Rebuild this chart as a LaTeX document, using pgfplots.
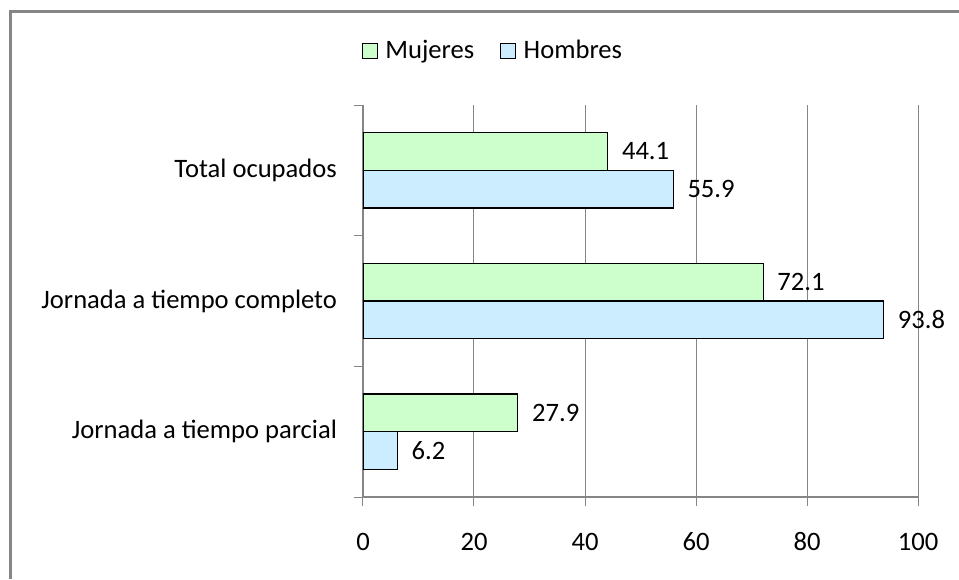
\documentclass[border=0pt]{standalone}
\usepackage{pgfplots}
\pgfplotsset{compat=1.18}
\usepackage{fontspec}
\setmainfont{Carlito}[Numbers=Lining]
\definecolor{mgreen}{HTML}{CCFFCC}
\definecolor{hblue}{HTML}{CCECFF}
\definecolor{gridgray}{HTML}{868686}
\newcommand{\lblfont}{\fontsize{13.3}{15}\selectfont}
\begin{document}
\begin{tikzpicture}
\useasboundingbox (0,0) rectangle (479.5pt,-289.5pt);
\draw[gridgray, line width=1.5pt] (5.25pt,-289.5pt) -- (5.25pt,-5.75pt) -- (479.5pt,-5.75pt);
\begin{axis}[
  at={(181.5pt,-248.5pt)}, anchor=south west,
  scale only axis, width=277.5pt, height=196pt,
  xmin=0, xmax=100, ymin=0, ymax=3,
  xbar, bar width=0.288,
  axis lines*=left,
  axis line style={gridgray, line width=0.8pt},
  xtick={0,20,40,60,80,100},
  xmajorgrids, grid style={gridgray, line width=0.5pt},
  tick style={gridgray, line width=0.5pt},
  tick align=outside, major tick length=4.5pt,
  ytick={0,1,2,3}, yticklabels={},
  extra y ticks={0.5,1.5,2.5},
  extra y tick labels={Jornada a tiempo parcial, Jornada a tiempo completo, Total ocupados},
  extra y tick style={major tick length=0pt, grid=none},
  yticklabel style={font=\lblfont, black, xshift=-9.5pt},
  xticklabel style={font=\lblfont, black, anchor=north, text height=9pt, text depth=0pt, yshift=-9.5pt},
  /pgf/number format/assume math mode=true,
  nodes near coords,
  nodes near coords style={font=\lblfont, black, anchor=west, xshift=3.5pt,
    /pgf/number format/.cd, fixed, precision=1, fixed zerofill, assume math mode=true},
  legend style={at={(0.236,1.138)}, anchor=center, draw=none, fill=none,
    font=\lblfont, legend columns=2,
    /tikz/every even column/.append style={column sep=11pt}},
  legend image code/.code={\draw[#1, draw=black, line width=0.5pt] (0pt,-3.75pt) rectangle (7.5pt,3.75pt); \path[draw=none, fill=none] (9.5pt,0pt) circle (0.01pt);},
]
\addplot[fill=mgreen, draw=black, line width=0.6pt, bar shift=0.144] coordinates {(27.9,0.5) (72.1,1.5) (44.1,2.5)};
\addplot[fill=hblue, draw=black, line width=0.6pt, bar shift=-0.144] coordinates {(6.2,0.5) (93.8,1.5) (55.9,2.5)};
\legend{Mujeres, Hombres}
\end{axis}
\end{tikzpicture}
\end{document}
